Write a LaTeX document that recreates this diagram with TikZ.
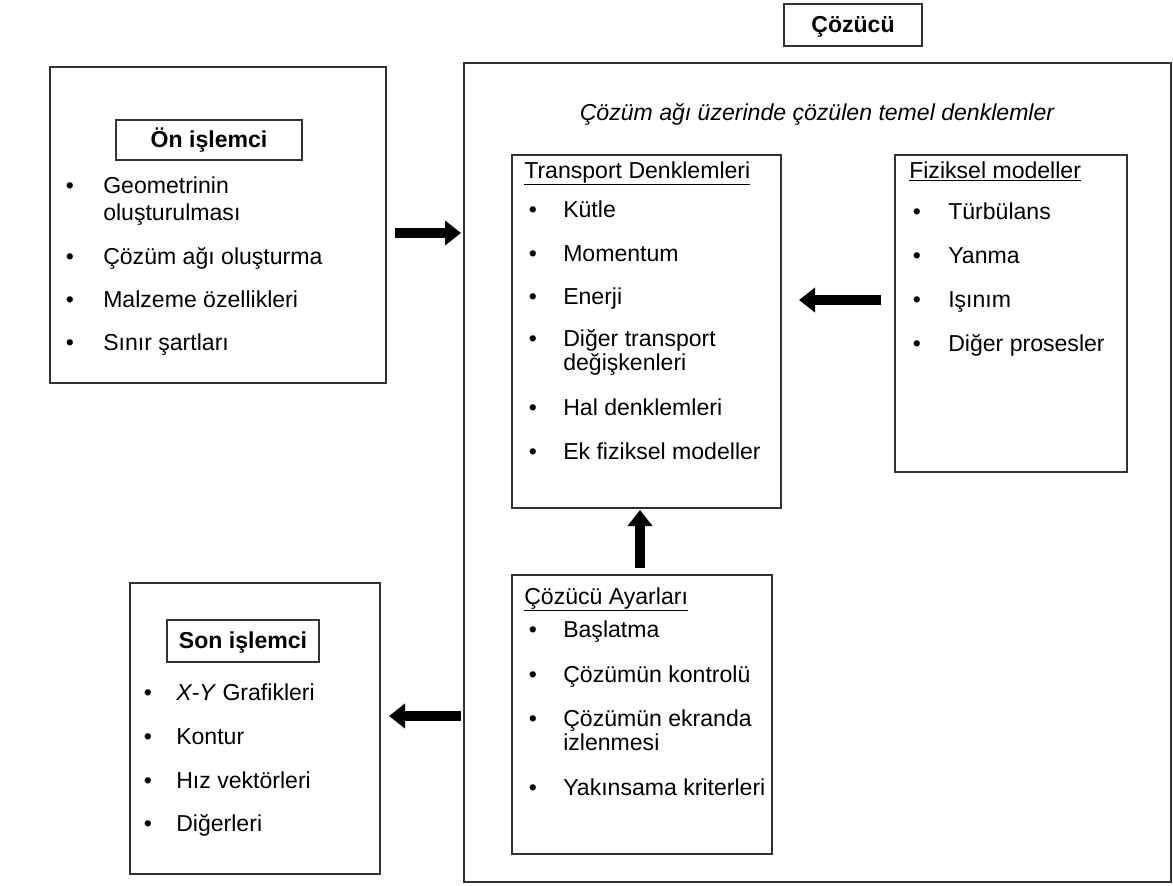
\documentclass[tikz,border=0pt]{standalone}
\usepackage{fontspec}
\setmainfont{Liberation Sans}
\usetikzlibrary{arrows.meta}
\begin{document}
\begin{tikzpicture}[x=0.75pt,y=-0.75pt,
  box/.style={draw=black!80, line width=1.4pt},
  txt/.style={anchor=base west, inner sep=0pt, font=\fontsize{17.3}{20}\selectfont},
  ttl/.style={anchor=base, inner sep=0pt, font=\fontsize{17.3}{20}\selectfont\bfseries},
  bul/.style={anchor=base, inner sep=0pt, font=\fontsize{17.3}{20}\selectfont},
  bigarrow/.style={draw=black, line width=7.5pt, -{Triangle[width=18pt,length=12pt]}}
]
\useasboundingbox (0,0) rectangle (1173,885);

% ---------- Çözücü ----------
\draw[box] (784,4) rectangle (922,46);
\node[ttl] (cozt) at (853,32) {Çözücü};
\draw[box] (464,63) rectangle (1171,882);
\node[txt, anchor=base, font=\fontsize{17.3}{20}\selectfont\itshape] (head) at (817,120) {Çözüm ağı üzerinde çözülen temel denklemler};

% ---------- Ön işlemci ----------
\draw[box] (50,67) rectangle (386,383);
\draw[box] (116,120) rectangle (302,160);
\node[ttl] (ont) at (209,147) {Ön işlemci};
\node[bul] (onb1) at (70,193) {•};
\node[txt] (on1) at (103,193) {Geometrinin};
\node[txt] (on1b) at (103,220) {oluşturulması};
\node[bul] (onb2) at (70,264) {•};
\node[txt] (on2) at (103,264) {Çözüm ağı oluşturma};
\node[bul] (onb3) at (70,307) {•};
\node[txt] (on3) at (103,307) {Malzeme özellikleri};
\node[bul] (onb4) at (70,350) {•};
\node[txt] (on4) at (103,350) {Sınır şartları};

% ---------- Transport ----------
\draw[box] (512,155) rectangle (781,508);
\node[txt] (trt) at (524,178) {\underline{Transport Denklemleri}};
\node[bul] (trb1) at (533,217) {•};
\node[txt] (tr1) at (563,217) {Kütle};
\node[bul] (trb2) at (533,261) {•};
\node[txt] (tr2) at (563,261) {Momentum};
\node[bul] (trb3) at (533,304) {•};
\node[txt] (tr3) at (563,304) {Enerji};
\node[bul] (trb4) at (533,346) {•};
\node[txt] (tr4) at (563,346) {Diğer transport};
\node[txt] (tr4b) at (563,370) {değişkenleri};
\node[bul] (trb5) at (533,415) {•};
\node[txt] (tr5) at (563,415) {Hal denklemleri};
\node[bul] (trb6) at (533,459) {•};
\node[txt] (tr6) at (563,459) {Ek fiziksel modeller};

% ---------- Fiziksel modeller ----------
\draw[box] (895,155) rectangle (1127,472);
\node[txt] (fzt) at (909,178) {\underline{Fiziksel modeller}};
\node[bul] (fzb1) at (917,219) {•};
\node[txt] (fz1) at (948,219) {Türbülans};
\node[bul] (fzb2) at (917,263) {•};
\node[txt] (fz2) at (948,263) {Yanma};
\node[bul] (fzb3) at (917,307) {•};
\node[txt] (fz3) at (948,307) {Işınım};
\node[bul] (fzb4) at (917,351) {•};
\node[txt] (fz4) at (948,351) {Diğer prosesler};

% ---------- Çözücü Ayarları ----------
\draw[box] (512,575) rectangle (772,854);
\node[txt] (ayt) at (524,604) {\underline{Çözücü Ayarları}};
\node[bul] (ayb1) at (533,637) {•};
\node[txt] (ay1) at (563,637) {Başlatma};
\node[bul] (ayb2) at (533,682) {•};
\node[txt] (ay2) at (563,682) {Çözümün kontrolü};
\node[bul] (ayb3) at (533,726) {•};
\node[txt] (ay3) at (563,726) {Çözümün ekranda};
\node[txt] (ay3b) at (563,750) {izlenmesi};
\node[bul] (ayb4) at (533,795) {•};
\node[txt] (ay4) at (563,795) {Yakınsama kriterleri};

% ---------- Son işlemci ----------
\draw[box] (130,583) rectangle (380,874);
\draw[box] (167,620) rectangle (319,662);
\node[ttl] (sont) at (243,648) {Son işlemci};
\node[bul] (snb1) at (148,700) {•};
\node[txt] (sn1) at (176,700) {\textit{X-Y} Grafikleri};
\node[bul] (snb2) at (148,744) {•};
\node[txt] (sn2) at (176,744) {Kontur};
\node[bul] (snb3) at (148,788) {•};
\node[txt] (sn3) at (176,788) {Hız vektörleri};
\node[bul] (snb4) at (148,831) {•};
\node[txt] (sn4) at (176,831) {Diğerleri};

% ---------- Arrows ----------
\coordinate (a1s) at (395,233);
\coordinate (a1e) at (461,233);
\draw[bigarrow] (a1s) -- (a1e);
\coordinate (a2s) at (881,300);
\coordinate (a2e) at (799,300);
\draw[bigarrow] (a2s) -- (a2e);
\coordinate (a3s) at (640,568);
\coordinate (a3e) at (640,510);
\draw[bigarrow] (a3s) -- (a3e);
\coordinate (a4s) at (461,716);
\coordinate (a4e) at (389,716);
\draw[bigarrow] (a4s) -- (a4e);
\end{tikzpicture}
\end{document}
